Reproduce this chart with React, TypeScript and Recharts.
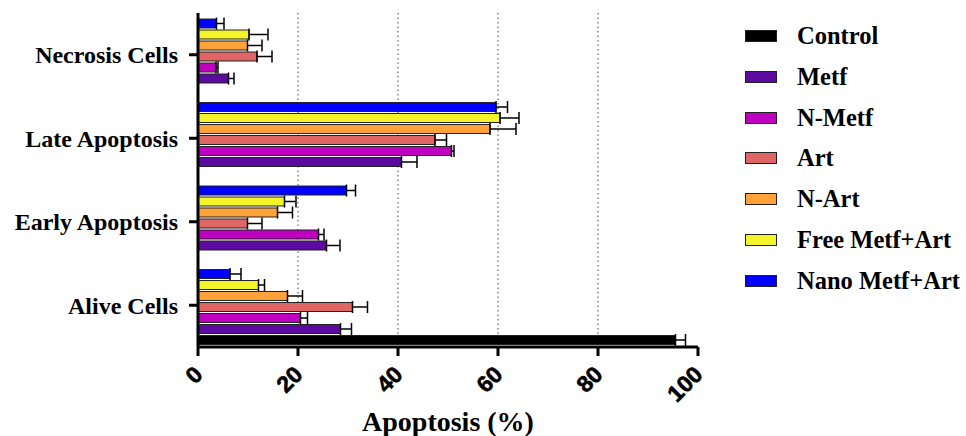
import { Bar, BarChart, CartesianGrid, ErrorBar, XAxis, YAxis } from "recharts";

const categories = ["Necrosis Cells", "Late Apoptosis", "Early Apoptosis", "Alive Cells"];

const control = [0, 0, 0, 95.5];
const controlErr = [0, 0, 0, 2];
const metf = [6.1, 40.7, 25.7, 28.5];
const metfErr = [1.1, 3.1, 2.7, 2.2];
const nMetf = [3.6, 50.7, 24.1, 20.5];
const nMetfErr = [0.4, 0.5, 1.1, 1.4];
const art = [11.8, 47.4, 9.9, 30.9];
const artErr = [3, 2.3, 2.9, 3];
const nArt = [9.9, 58.4, 15.9, 17.9];
const nArtErr = [2.9, 5.2, 3, 3];
const freeMix = [10.2, 60.4, 17.3, 12.1];
const freeMixErr = [3.8, 3.8, 2.3, 1.2];
const nanoMix = [3.7, 59.6, 29.7, 6.4];
const nanoMixErr = [1.5, 2.3, 1.8, 2.2];

const xTicks = [0, 20, 40, 60, 80, 100];

// legend order (top to bottom); bars are drawn in reverse so Control sits at the bottom of each group
const series = [
  { key: "control", name: "Control", color: "#000000", values: control, errs: controlErr },
  { key: "metf", name: "Metf", color: "#5c0aa0", values: metf, errs: metfErr },
  { key: "nMetf", name: "N-Metf", color: "#c000c0", values: nMetf, errs: nMetfErr },
  { key: "art", name: "Art", color: "#e06666", values: art, errs: artErr },
  { key: "nArt", name: "N-Art", color: "#ffa23a", values: nArt, errs: nArtErr },
  { key: "free", name: "Free Metf+Art", color: "#f4f42a", values: freeMix, errs: freeMixErr },
  { key: "nano", name: "Nano Metf+Art", color: "#0000ff", values: nanoMix, errs: nanoMixErr },
];

const data = categories.map((c, i) => {
  const row: Record<string, any> = { category: c };
  series.forEach((s) => {
    row[s.key] = s.values[i];
    row[s.key + "Err"] = [0, s.errs[i]];
  });
  return row;
});

const serif = "'Liberation Serif', 'Times New Roman', serif";
const sans = "'Liberation Sans', Arial, sans-serif";

function XTick({ x, y, payload }: any) {
  const ax = x + 6;
  const ay = y + 20;
  return (
    <text
      x={ax}
      y={ay}
      transform={`rotate(-45, ${ax}, ${ay})`}
      textAnchor="end"
      fontFamily={sans}
      fontWeight="bold"
      fontSize={23}
      stroke="#000"
      strokeWidth={0.6}
      fill="#000"
    >
      {payload.value}
    </text>
  );
}

export default function App() {
  return (
    <div style={{ position: "absolute", left: 0, top: 0, width: 966, height: 436, background: "#fff" }}>
      <BarChart
        width={966}
        height={436}
        data={data}
        layout="vertical"
        margin={{ top: 13, right: 268, bottom: 0, left: 0 }}
        barCategoryGap={6}
        barGap={2}
      >
        <CartesianGrid horizontal={false} verticalValues={[20, 40, 60, 80]} stroke="#444" strokeDasharray="1.5 3" />
        <XAxis
          type="number"
          domain={[0, 100]}
          ticks={xTicks}
          height={89}
          axisLine={{ stroke: "#000", strokeWidth: 3 }}
          tickLine={{ stroke: "#000", strokeWidth: 3 }}
          tickSize={9}
          tickMargin={0}
          tick={<XTick />}
          label={{
            value: "Apoptosis (%)",
            position: "insideBottom",
            offset: 5,
            style: { fontFamily: serif, fontWeight: "bold", fontSize: 28, fill: "#000" },
          }}
        />
        <YAxis
          type="category"
          dataKey="category"
          width={198}
          axisLine={{ stroke: "#000", strokeWidth: 3 }}
          tickLine={{ stroke: "#000", strokeWidth: 3 }}
          tickSize={9}
          tickMargin={11}
          tick={{ fontFamily: serif, fontWeight: "bold", fontSize: 24, fill: "#000" }}
        />
        {[...series].reverse().map((s) => (
          <Bar
            key={s.key}
            dataKey={s.key}
            name={s.name}
            fill={s.color}
            stroke="#222"
            strokeWidth={1}
            isAnimationActive={false}
          >
            <ErrorBar dataKey={s.key + "Err"} direction="x" width={6} stroke="#000" strokeWidth={1.5} />
          </Bar>
        ))}
      </BarChart>
      {series.map((s, i) => (
        <div
          key={s.key}
          style={{
            position: "absolute",
            left: 745,
            top: 36 + i * 40.8 - 15,
            height: 30,
            display: "flex",
            alignItems: "center",
            fontFamily: serif,
            fontWeight: "bold",
            fontSize: 24.5,
            whiteSpace: "nowrap",
          }}
        >
          <span
            style={{
              display: "inline-block",
              width: 30,
              height: 10,
              background: s.color,
              border: "1.5px solid #222",
              marginRight: 20,
            }}
          />
          {s.name}
        </div>
      ))}
    </div>
  );
}
